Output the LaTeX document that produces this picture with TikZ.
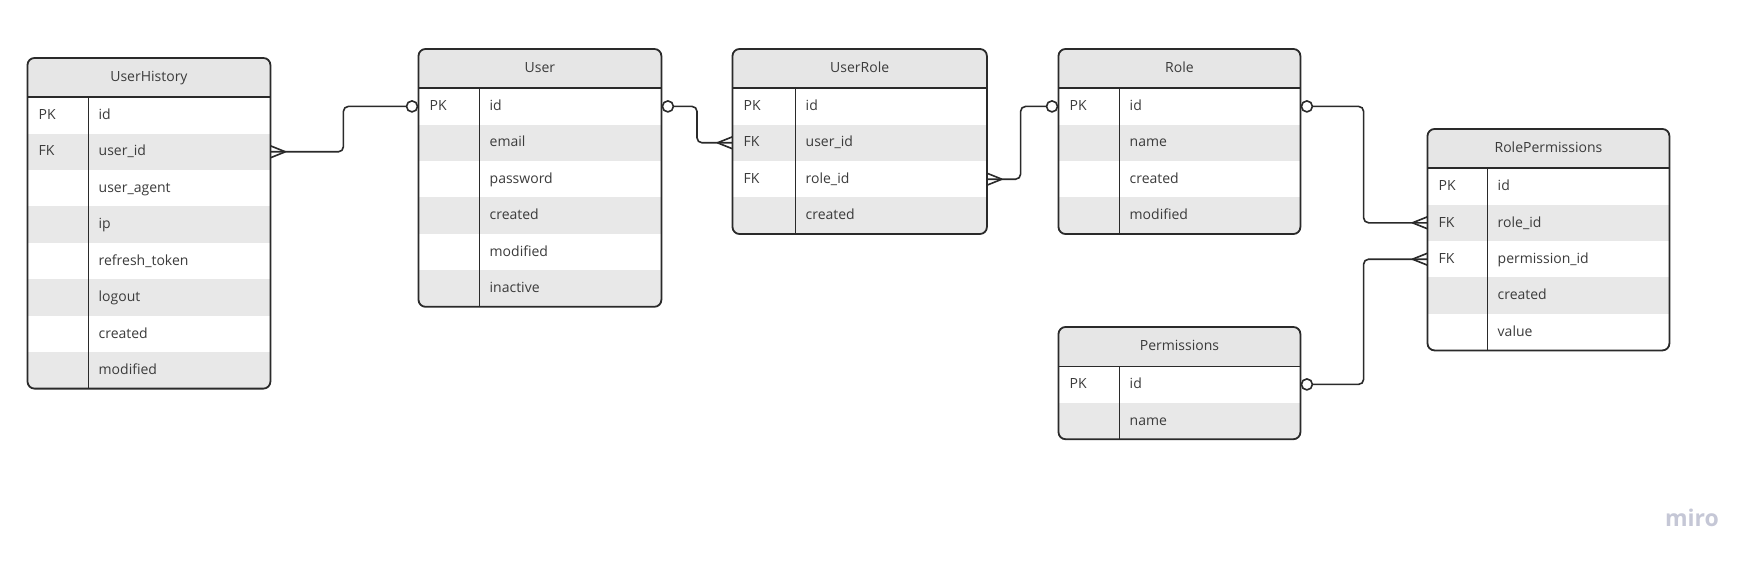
\documentclass[tikz,border=0pt]{standalone}
\usepackage{fontspec}
\setmainfont{Open Sans}
\usepackage{tikz}

\definecolor{rowgray}{HTML}{E8E8E8}
\definecolor{headgray}{HTML}{E6E6E6}
\definecolor{edgecol}{HTML}{2A2A2A}
\definecolor{textcol}{HTML}{3B3B3B}
\definecolor{mirocol}{HTML}{C5C7D6}

% name, x, y, width, key width, title, rows, number of rows
\newcommand\ertable[8]{%
  \scope
  \clip[rounded corners=7] (#2,#3) rectangle ++(#4,{39+#8*36.4});
  \node[tabhead, minimum width=#4] (#1) at (#2,#3) {};
  \node[tabtitle] (#1-t) at ([yshift=-4.2]#1.center) {#6};
  \foreach \k/\f [count=\i] in {#7} {
    \ifodd\i \def\rowfill{white}\else \def\rowfill{rowgray}\fi
    \node[tabrow, fill=\rowfill, minimum width=#4] (#1-\i) at (#2,{#3+39+(\i-1)*36.4}) {};
    \node[fieldtext] (#1-\i-k) at ([xshift=11,yshift=-4.2]#1-\i.west) {\k};
    \node[fieldtext] (#1-\i-f) at ([xshift=#5+10,yshift=-4.2]#1-\i.west) {\f};
  }
  \endscope
  \draw[tabline, rounded corners=7] (#1.north west) rectangle (#1-#8.south east);
  \draw[tabline] (#1.south west) -- (#1.south east);
  \draw[tabline] ([xshift=#5]#1.south west) -- ([xshift=#5]#1-#8.south west);
}

\begin{document}
\begin{tikzpicture}[x=1pt,y=-1pt,
  tabhead/.style={anchor=north west,minimum height=39,inner sep=0,fill=headgray},
  tabrow/.style={anchor=north west,minimum height=36.4,inner sep=0},
  fieldtext/.style={anchor=base west,inner sep=0,text=textcol,font=\fontsize{14}{17}\selectfont},
  tabtitle/.style={anchor=base,inner sep=0,text=textcol,font=\fontsize{14}{17}\selectfont},
  tabline/.style={draw=edgecol,line width=1.8},
  conn/.style={draw=edgecol,line width=1.6,rounded corners=5},
  onemark/.style={circle,draw=edgecol,line width=1.6,fill=white,minimum size=11,inner sep=0},
  crowL/.pic={\draw[conn] (-15,0) -- (0,-6) (-15,0) -- (0,6);},
  crowR/.pic={\draw[conn] (15,0) -- (0,-6) (15,0) -- (0,6);}]
\fill[white] (0,0) rectangle (1762,567);
\useasboundingbox (0,0) rectangle (1762,567);

% tables
\ertable{uh}{27.5}{58}{242.5}{61}{UserHistory}{PK/id,FK/user\_id,/user\_agent,/ip,/refresh\_token,/logout,/created,/modified}{8}
\ertable{u}{418.5}{49}{242.5}{61}{User}{PK/id,/email,/password,/created,/modified,/inactive}{6}
\ertable{ur}{732.5}{49}{254}{63}{UserRole}{PK/id,FK/user\_id,FK/role\_id,/created}{4}
\ertable{r}{1058.5}{49}{241.5}{61}{Role}{PK/id,/name,/created,/modified}{4}
\ertable{rp}{1427.5}{129}{241.5}{60}{RolePermissions}{PK/id,FK/role\_id,FK/permission\_id,/created,/value}{5}
\ertable{p}{1058.5}{327}{241.5}{61}{Permissions}{PK/id,/name}{2}

% relations
\draw[conn] (uh-2.east) -- ++(73,0) |- (u-1.west);
\draw[conn] (u-1.east) -- ++(35.6,0) |- (ur-2.west);
\draw[conn] (ur-3.east) -- ++(33.7,0) |- (r-1.west);
\draw[conn] (r-1.east) -- ++(63.2,0) |- (rp-2.west);
\draw[conn] (p-1.east) -- ++(63.2,0) |- (rp-3.west);

% ends
\pic at (uh-2.east) {crowR};
\pic at (ur-2.west) {crowL};
\pic at (ur-3.east) {crowR};
\pic at (rp-2.west) {crowL};
\pic at (rp-3.west) {crowL};
\node[onemark] (o1) at ([xshift=-6.5]u-1.west) {};
\node[onemark] (o2) at ([xshift=6.5]u-1.east) {};
\node[onemark] (o3) at ([xshift=-6.5]r-1.west) {};
\node[onemark] (o4) at ([xshift=6.5]r-1.east) {};
\node[onemark] (o5) at ([xshift=6.5]p-1.east) {};

\node[anchor=base,inner sep=0,text=mirocol,font=\fontsize{23}{26}\selectfont\bfseries] (logo) at (1692,526) {miro};
\end{tikzpicture}
\end{document}
